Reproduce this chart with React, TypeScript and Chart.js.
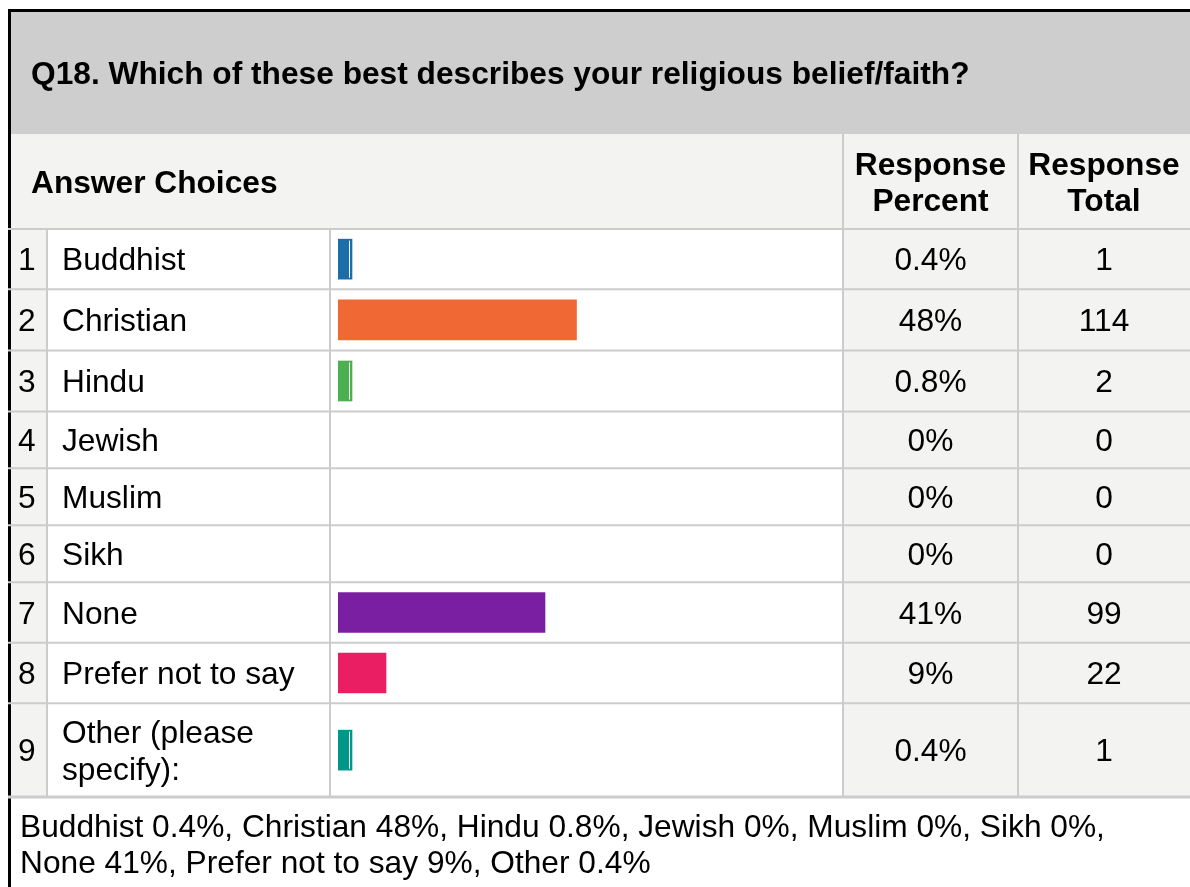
import React, { useEffect, useRef } from 'react';
import { Chart, registerables } from 'chart.js';

Chart.register(...registerables);

// ---------- data ----------
const questionTitle = 'Q18. Which of these best describes your religious belief/faith?';
const headerChoices = 'Answer Choices';
const headerPercent = ['Response', 'Percent'];
const headerTotal = ['Response', 'Total'];

const categories = [
  'Buddhist',
  'Christian',
  'Hindu',
  'Jewish',
  'Muslim',
  'Sikh',
  'None',
  'Prefer not to say',
  'Other (please specify):',
];
// bar lengths (percent of respondents)
const barPercent = [0.4, 47.7, 0.8, 0, 0, 0, 41.4, 9.6, 0.4];
const percentLabels = ['0.4%', '48%', '0.8%', '0%', '0%', '0%', '41%', '9%', '0.4%'];
const responseTotals = [1, 114, 2, 0, 0, 0, 99, 22, 1];
const barColors = ['#1d6ea8', '#f06934', '#4caf50', '#3f51b5', '#ff9800', '#795548', '#7b1fa2', '#e91e63', '#009688'];
const summaryText =
  'Buddhist 0.4%, Christian 48%, Hindu 0.8%, Jewish 0%, Muslim 0%, Sikh 0%, None 41%, Prefer not to say 9%, Other 0.4%';

// ---------- layout (pixels) ----------
const W = 1190;
const H = 887;
const rowHeights = [60.3, 61.2, 61, 56.8, 57, 57, 60.4, 60.6, 93.7];
const TABLE_TOP = 229;
const TITLE_TOP = 12;
const TITLE_BOTTOM = 134;
const COL_NUM = 11;
const COL_LABEL = 47;
const COL_BAR = 330;
const COL_PCT = 843;
const COL_TOT = 1018;
const BAR_LEFT = 338;
const BAR_FULL = 500; // width of 100%
const FONT = '"Liberation Sans", Arial, Helvetica, sans-serif';
const FS = 31.7;
const CAP = FS * 0.716;
const LINE = 36.6;
const GREY = '#cccccc';
const LIGHT = '#f3f3f2';
const TITLE_BG = '#cfcecf';

const rowTotal = rowHeights.reduce((a, b) => a + b, 0);
const rowStarts: number[] = [];
rowHeights.reduce((acc, h) => {
  rowStarts.push(acc);
  return acc + h;
}, 0);
const rowCenters = rowHeights.map((h, i) => rowStarts[i] + h / 2);
const TABLE_BOTTOM = TABLE_TOP + rowTotal;

function wrap(ctx: CanvasRenderingContext2D, text: string, maxW: number): string[] {
  const words = text.split(' ');
  const lines: string[] = [];
  let cur = '';
  for (const w of words) {
    const t = cur ? cur + ' ' + w : w;
    if (ctx.measureText(t).width > maxW && cur) {
      lines.push(cur);
      cur = w;
    } else cur = t;
  }
  if (cur) lines.push(cur);
  return lines;
}

function drawLines(ctx: CanvasRenderingContext2D, lines: string[], x: number, cy: number) {
  const n = lines.length;
  lines.forEach((l, i) => {
    const base = cy + CAP / 2 + (i - (n - 1) / 2) * LINE;
    ctx.fillText(l, x, base);
  });
}

const tablePlugin = {
  id: 'surveyTable',
  beforeDraw(chart: any) {
    const ctx: CanvasRenderingContext2D = chart.ctx;
    ctx.save();
    ctx.fillStyle = '#ffffff';
    ctx.fillRect(0, 0, W, H);

    // title band
    ctx.fillStyle = TITLE_BG;
    ctx.fillRect(COL_NUM, TITLE_TOP, W - COL_NUM, TITLE_BOTTOM - TITLE_TOP);
    // header band
    ctx.fillStyle = LIGHT;
    ctx.fillRect(COL_NUM, TITLE_BOTTOM, W - COL_NUM, TABLE_TOP - TITLE_BOTTOM);
    // light columns in the body
    ctx.fillRect(COL_NUM, TABLE_TOP, COL_LABEL - COL_NUM, rowTotal);
    ctx.fillRect(COL_PCT, TABLE_TOP, W - COL_PCT, rowTotal);

    // black frame
    ctx.fillStyle = '#000000';
    ctx.fillRect(8, 9, W - 8, 3);
    ctx.fillRect(8, 9, 3, H - 9);

    // grey separators
    ctx.strokeStyle = GREY;
    ctx.lineWidth = 2;
    const hLine = (y: number, w = 2) => {
      ctx.lineWidth = w;
      ctx.beginPath();
      ctx.moveTo(8, y);
      ctx.lineTo(W, y);
      ctx.stroke();
    };
    const vLine = (x: number, y0: number, y1: number) => {
      ctx.lineWidth = 2;
      ctx.beginPath();
      ctx.moveTo(x, y0);
      ctx.lineTo(x, y1);
      ctx.stroke();
    };
    hLine(TABLE_TOP);
    rowStarts.forEach((s, i) => {
      if (i > 0) hLine(TABLE_TOP + s);
    });
    hLine(TABLE_BOTTOM, 3);
    vLine(COL_LABEL, TABLE_TOP, TABLE_BOTTOM);
    vLine(COL_BAR, TABLE_TOP, TABLE_BOTTOM);
    vLine(COL_PCT, TITLE_BOTTOM, TABLE_BOTTOM);
    vLine(COL_TOT, TITLE_BOTTOM, TABLE_BOTTOM);

    // texts
    ctx.fillStyle = '#000000';
    ctx.textBaseline = 'alphabetic';
    ctx.font = `bold ${FS}px ${FONT}`;
    ctx.textAlign = 'left';
    drawLines(ctx, [questionTitle], 31, (TITLE_TOP + TITLE_BOTTOM) / 2);
    const hc = (TITLE_BOTTOM + TABLE_TOP) / 2;
    drawLines(ctx, [headerChoices], 31, hc);
    ctx.textAlign = 'center';
    drawLines(ctx, headerPercent, (COL_PCT + COL_TOT) / 2, hc);
    drawLines(ctx, headerTotal, (COL_TOT + W) / 2, hc);

    ctx.font = `${FS}px ${FONT}`;
    categories.forEach((c, i) => {
      const cy = TABLE_TOP + rowCenters[i];
      ctx.textAlign = 'left';
      drawLines(ctx, [String(i + 1)], 18, cy);
      drawLines(ctx, wrap(ctx, c, COL_BAR - 62 - 14), 62, cy);
      ctx.textAlign = 'center';
      drawLines(ctx, [percentLabels[i]], (COL_PCT + COL_TOT) / 2, cy);
      drawLines(ctx, [String(responseTotals[i])], (COL_TOT + W) / 2, cy);
    });

    ctx.textAlign = 'left';
    const summary = wrap(ctx, summaryText, 1155);
    summary.forEach((l, i) => ctx.fillText(l, 20, 836.7 + i * LINE));
    ctx.restore();
  },
  afterDatasetsDraw(chart: any) {
    const ctx: CanvasRenderingContext2D = chart.ctx;
    const meta = chart.getDatasetMeta(0);
    ctx.save();
    ctx.strokeStyle = '#ffffff';
    ctx.lineWidth = 1;
    meta.data.forEach((el: any) => {
      const left = Math.min(el.x, el.base);
      const right = Math.max(el.x, el.base);
      if (right - left < 20) {
        const x = right - 2.5;
        ctx.beginPath();
        ctx.moveTo(x, el.y - el.height / 2 + 1.5);
        ctx.lineTo(x, el.y + el.height / 2 - 1.5);
        ctx.stroke();
      }
    });
    ctx.restore();
  },
};

export default function App() {
  const ref = useRef<HTMLCanvasElement | null>(null);
  useEffect(() => {
    if (!ref.current) return;
    const shown = categories.map((_, i) => i).filter((i) => barPercent[i] > 0);
    const chart = new Chart(ref.current, {
      type: 'bar',
      data: {
        labels: shown.map((i) => categories[i]),
        datasets: [
          {
            data: shown.map((i) => ({ x: barPercent[i], y: rowCenters[i] })) as any,
            backgroundColor: shown.map((i) => barColors[i]),
            borderWidth: 0,
            barThickness: 40,
            minBarLength: 14,
          },
        ],
      },
      options: {
        animation: false,
        responsive: false,
        maintainAspectRatio: false,
        indexAxis: 'y',
        layout: {
          padding: {
            left: BAR_LEFT,
            right: W - BAR_LEFT - BAR_FULL,
            top: TABLE_TOP,
            bottom: H - TABLE_BOTTOM,
          },
        },
        scales: {
          x: { type: 'linear', min: 0, max: 100, display: false, offset: false },
          y: { type: 'linear', min: 0, max: rowTotal, reverse: true, display: false, offset: false, grid: { offset: false } },
        },
        plugins: { legend: { display: false }, tooltip: { enabled: false } },
      },
      plugins: [tablePlugin],
    });
    return () => chart.destroy();
  }, []);
  return (
    <div style={{ position: 'absolute', left: 0, top: 0, width: W, height: H, overflow: 'hidden' }}>
      <canvas ref={ref} width={W} height={H} style={{ display: 'block', width: W, height: H }} />
    </div>
  );
}
